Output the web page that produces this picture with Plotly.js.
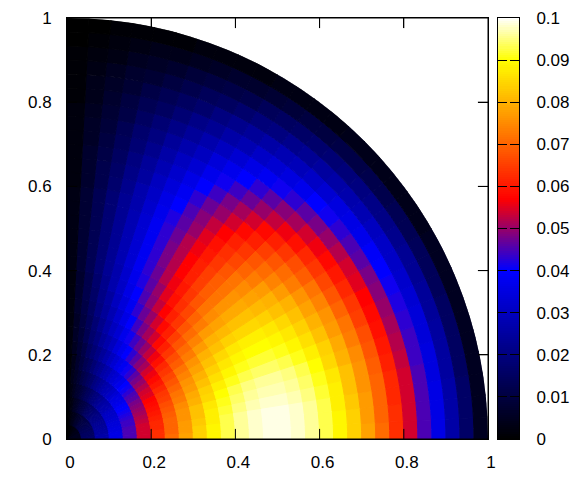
<!DOCTYPE html>
<html>
<head>
<meta charset="utf-8">
<script src="https://cdn.plot.ly/plotly-3.0.1.min.js"></script>
<style>
  html, body { margin: 0; padding: 0; background: #fff; }
</style>
</head>
<body>
<div id="chart" style="width:581px;height:480px"></div>
<script>
// inner edge of each ring along the radius, each ring is 1/30 wide
const ringStart = [0, .0333, .0667, .1, .1333, .1667, .2, .2333, .2667, .3, .3333, .3667, .4, .4333, .4667,
                   .5, .5333, .5667, .6, .6333, .6667, .7, .7333, .7667, .8, .8333, .8667, .9, .9333, .9667];
const ringWidth = .0333334;
// centre angle of each sector, 3 degrees wide
const sectorAngle = [1.5, 4.5, 7.5, 10.5, 13.5, 16.5, 19.5, 22.5, 25.5, 28.5, 31.5, 34.5, 37.5, 40.5, 43.5,
                     46.5, 49.5, 52.5, 55.5, 58.5, 61.5, 64.5, 67.5, 70.5, 73.5, 76.5, 79.5, 82.5, 85.5, 88.5];
const sectorWidth = 3;

// cell values in thousandths, one row per sector (from the x axis up), one column per ring
const cellValues = [
  [5,16,26,36,45,54,63,71,78,84,89,93,96,98,99,99,98,96,93,89,84,78,71,63,54,45,36,26,16,5],
  [5,16,26,36,45,54,63,70,77,84,89,93,96,98,99,99,98,96,93,89,84,77,70,63,54,45,36,26,16,5],
  [5,16,26,36,45,54,62,70,77,83,88,93,96,98,99,99,98,96,93,88,83,77,70,62,54,45,36,26,16,5],
  [5,15,25,35,45,54,62,70,76,82,88,92,95,97,98,98,97,95,92,88,82,76,70,62,54,45,35,25,15,5],
  [5,15,25,35,44,53,61,69,76,82,87,91,94,96,97,97,96,94,91,87,82,76,69,61,53,44,35,25,15,5],
  [5,15,25,34,44,52,60,68,75,80,85,90,93,95,96,96,95,93,90,85,80,75,68,60,52,44,34,25,15,5],
  [5,15,24,34,43,51,59,67,73,79,84,88,91,93,94,94,93,91,88,84,79,73,67,59,51,43,34,24,15,5],
  [5,14,24,33,42,50,58,65,72,77,82,86,89,91,92,92,91,89,86,82,77,72,65,58,50,42,33,24,14,5],
  [5,14,23,32,41,49,57,64,70,76,80,84,87,89,90,90,89,87,84,80,76,70,64,57,49,41,32,23,14,5],
  [5,14,23,31,40,48,55,62,68,74,78,82,85,87,88,88,87,85,82,78,74,68,62,55,48,40,31,23,14,5],
  [4,13,22,31,39,46,54,60,66,72,76,80,82,84,85,85,84,82,80,76,72,66,60,54,46,39,31,22,13,4],
  [4,13,21,30,37,45,52,58,64,69,73,77,80,81,82,82,81,80,77,73,69,64,58,52,45,37,30,21,13,4],
  [4,12,21,28,36,43,50,56,62,67,71,74,77,78,79,79,78,77,74,71,67,62,56,50,43,36,28,21,12,4],
  [4,12,20,27,35,41,48,54,59,64,68,71,73,75,76,76,75,73,71,68,64,59,54,48,41,35,27,20,12,4],
  [4,11,19,26,33,40,46,51,56,61,65,68,70,72,72,72,72,70,68,65,61,56,51,46,40,33,26,19,11,4],
  [4,11,18,25,31,37,43,49,53,58,61,64,66,68,69,69,68,66,64,61,58,53,49,43,37,31,25,18,11,4],
  [3,10,17,23,29,35,41,46,50,54,58,61,63,64,65,65,64,63,61,58,54,50,46,41,35,29,23,17,10,3],
  [3,10,16,22,28,33,38,43,47,51,54,57,59,60,61,61,60,59,57,54,51,47,43,38,33,28,22,16,10,3],
  [3,9,15,20,26,31,36,40,44,48,50,53,55,56,57,57,56,55,53,50,48,44,40,36,31,26,20,15,9,3],
  [3,8,14,19,24,28,33,37,41,44,47,49,50,52,52,52,52,50,49,47,44,41,37,33,28,24,19,14,8,3],
  [2,7,12,17,22,26,30,34,37,40,43,45,46,47,48,48,47,46,45,43,40,37,34,30,26,22,17,12,7,2],
  [2,7,11,15,20,23,27,30,33,36,38,40,42,43,43,43,43,42,40,38,36,33,30,27,23,20,15,11,7,2],
  [2,6,10,14,17,21,24,27,30,32,34,36,37,38,38,38,38,37,36,34,32,30,27,24,21,17,14,10,6,2],
  [2,5,9,12,15,18,21,24,26,28,30,31,32,33,33,33,33,32,31,30,28,26,24,21,18,15,12,9,5,2],
  [1,4,7,10,13,15,18,20,22,24,25,27,27,28,28,28,28,27,27,25,24,22,20,18,15,13,10,7,4,1],
  [1,4,6,8,11,13,15,17,18,20,21,22,23,23,23,23,23,23,22,21,20,18,17,15,13,11,8,6,4,1],
  [1,3,5,7,8,10,11,13,14,15,16,17,18,18,18,18,18,18,17,16,15,14,13,11,10,8,7,5,3,1],
  [1,2,3,5,6,7,8,9,10,11,12,12,13,13,13,13,13,13,12,12,11,10,9,8,7,6,5,3,2,1],
  [0,1,2,3,4,4,5,6,6,7,7,7,8,8,8,8,8,8,7,7,7,6,6,5,4,4,3,2,1,0],
  [0,0,1,1,1,1,2,2,2,2,2,2,3,3,3,3,3,3,2,2,2,2,2,2,1,1,1,1,0,0]
];

const axisTicks = [0, 0.2, 0.4, 0.6, 0.8, 1];
const barTicks = [0, 0.01, 0.02, 0.03, 0.04, 0.05, 0.06, 0.07, 0.08, 0.09, 0.1];
const barTickText = ["0", "0.01", "0.02", "0.03", "0.04", "0.05", "0.06", "0.07", "0.08", "0.09", "0.1"];

const palette = [[0, "#000000"], [0.4, "#0000ff"], [0.57, "#ff0000"], [0.9, "#ffff00"], [1, "#ffffff"]];

// flatten the table into one bar per cell
let r = [], base = [], theta = [], z = [];
sectorAngle.forEach((a, j) => {
  ringStart.forEach((s, i) => {
    r.push(ringWidth);
    base.push(s);
    theta.push(a);
    z.push(cellValues[j][i] / 1000);
  });
});

const cells = {
  type: "barpolar",
  r: r, base: base, theta: theta, width: sectorWidth,
  marker: {
    color: z, colorscale: palette, cmin: 0, cmax: 0.1, showscale: false,
    // same colour on the outline hides the seams between cells
    line: { color: z, colorscale: palette, cmin: 0, cmax: 0.1, width: 1 }
  },
  hoverinfo: "skip"
};

// holds the cartesian axes that give the frame and tick labels
const axisHolder = {
  type: "scatter", x: axisTicks, y: axisTicks, mode: "markers",
  marker: { opacity: 0 }, hoverinfo: "skip", showlegend: false
};

// colour bar as its own small axes, a native colorbar hides inside ticks under its fill
let rampLevels = [];
for (let i = 0; i <= 200; i++) rampLevels.push(i / 2000);
const colorRamp = {
  type: "heatmap", xaxis: "x2", yaxis: "y2",
  x: [0.5], y: rampLevels, z: rampLevels.map(v => [v]),
  colorscale: palette, zmin: 0, zmax: 0.1, showscale: false, hoverinfo: "skip"
};

const labelFont = { family: "Liberation Sans", size: 17, color: "#000" };
const axisStyle = {
  range: [0, 1], tickmode: "array", tickvals: axisTicks, ticktext: axisTicks.map(String),
  ticks: "inside", ticklen: 10, tickcolor: "#000", tickwidth: 1,
  showgrid: false, zeroline: false, showline: true, linecolor: "#000", linewidth: 1, mirror: "allticks",
  ticklabelstandoff: 11,
  tickfont: labelFont
};

// polar layer sits above the cartesian one, so repeat frame and ticks as shapes on top
let shapes = [{ type: "rect", xref: "x", yref: "y", x0: 0, x1: 1, y0: 0, y1: 1, line: { color: "#000", width: 1 } }];
const tl = 0.024;
axisTicks.slice(1, 5).forEach(t => {
  [[t, t, 0, tl], [t, t, 1 - tl, 1], [0, tl, t, t], [1 - tl, 1, t, t]].forEach(c => {
    shapes.push({ type: "line", xref: "x", yref: "y", x0: c[0], x1: c[1], y0: c[2], y1: c[3], line: { color: "#000", width: 1 } });
  });
});

const mainWidth = 421 / 452;   // plot area runs up to the right side of the colour bar

const layout = {
  width: 581, height: 480,
  margin: { l: 67, r: 62, t: 18, b: 41, pad: 0, autoexpand: false },
  paper_bgcolor: "#fff", plot_bgcolor: "#fff",
  showlegend: false,
  font: labelFont,
  xaxis: Object.assign({}, axisStyle, { domain: [0, mainWidth], ticklabelshift: 3, ticklabelstandoff: 8 }),
  yaxis: Object.assign({}, axisStyle),
  xaxis2: {
    domain: [431 / 452, 1], range: [0, 1], anchor: "y2",
    showticklabels: false, ticks: "", showgrid: false, zeroline: false,
    showline: true, linecolor: "#000", linewidth: 1, mirror: true
  },
  yaxis2: {
    domain: [0, 1], range: [0, 0.1], anchor: "x2", side: "right",
    tickmode: "array", tickvals: barTicks, ticktext: barTickText,
    ticks: "inside", ticklen: 9, tickcolor: "#000", tickwidth: 1,
    showgrid: false, zeroline: false, showline: true, linecolor: "#000", linewidth: 1, mirror: "ticks",
    ticklabelstandoff: 13,
    tickfont: labelFont
  },
  polar: {
    domain: { x: [0, mainWidth], y: [0, 1] },
    sector: [0, 90], bgcolor: "rgba(0,0,0,0)",
    radialaxis: { visible: false, range: [0, 1] },
    angularaxis: { visible: false }
  },
  shapes: shapes
};

Plotly.newPlot("chart", [axisHolder, colorRamp, cells], layout, { displayModeBar: false, staticPlot: true });
</script>
</body>
</html>
